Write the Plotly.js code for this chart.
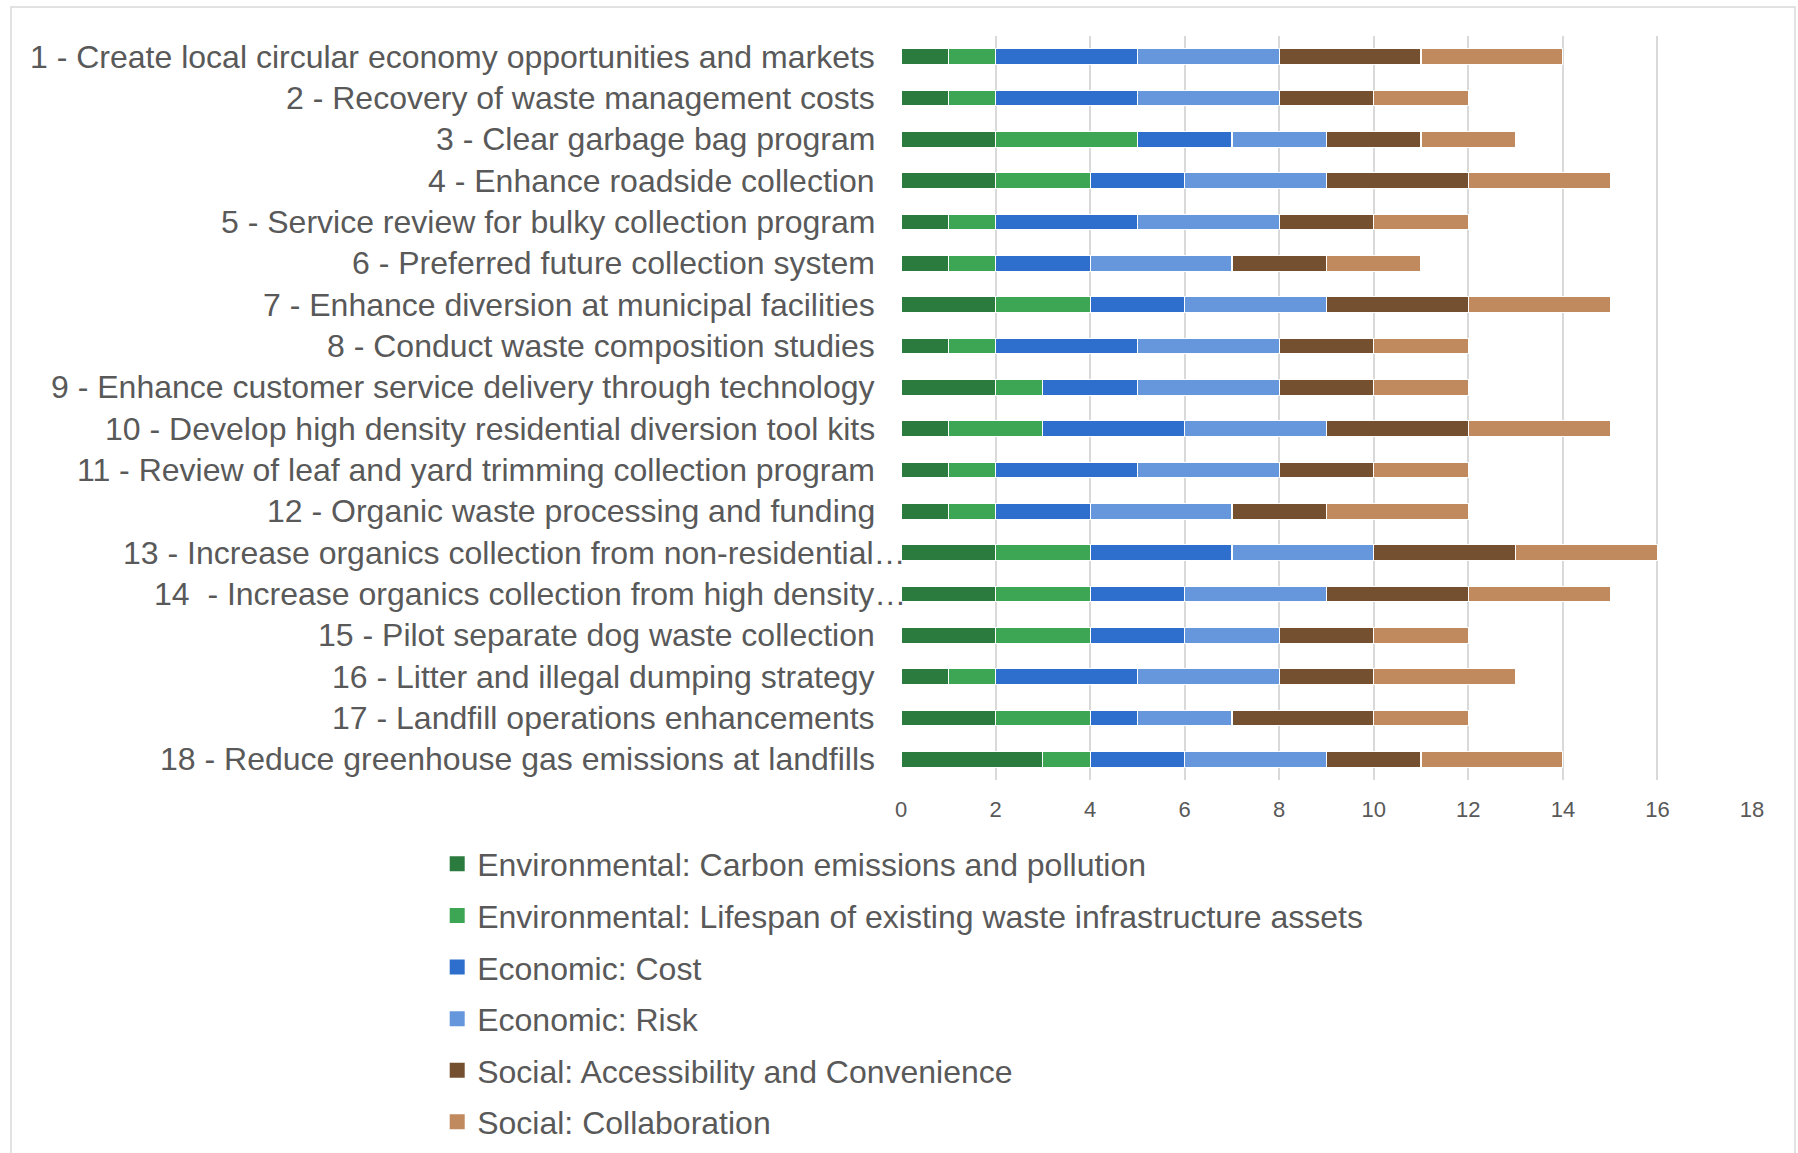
<!DOCTYPE html>
<html>
<head>
<meta charset="utf-8">
<script src="https://cdn.plot.ly/plotly-3.0.1.min.js"></script>
<style>html,body{margin:0;padding:0;background:#fff;}#chart{width:1798px;height:1153px;}</style>
</head>
<body>
<div id="chart"></div>
<script>
const categories = [
  "1 - Create local circular economy opportunities and markets",
  "2 - Recovery of waste management costs",
  "3 - Clear garbage bag program",
  "4 - Enhance roadside collection",
  "5 - Service review for bulky collection program",
  "6 - Preferred future collection system",
  "7 - Enhance diversion at municipal facilities",
  "8 - Conduct waste composition studies",
  "9 - Enhance customer service delivery through technology",
  "10 - Develop high density residential diversion tool kits",
  "11 - Review of leaf and yard trimming collection program",
  "12 - Organic waste processing and funding",
  "13 - Increase organics collection from non-residential\u2026",
  "14 \u00a0- Increase organics collection from high density\u2026",
  "15 - Pilot separate dog waste collection",
  "16 - Litter and illegal dumping strategy",
  "17 - Landfill operations enhancements",
  "18 - Reduce greenhouse gas emissions at landfills"
];
const seriesNames = [
  "Environmental: Carbon emissions and pollution",
  "Environmental: Lifespan of existing waste infrastructure assets",
  "Economic: Cost",
  "Economic: Risk",
  "Social: Accessibility and Convenience",
  "Social: Collaboration"
];
const carbon        = [1,1,2,2,1,1,2,1,2,1,1,1,2,2,2,1,2,3];
const lifespan      = [1,1,3,2,1,1,2,1,1,2,1,1,2,2,2,1,2,1];
const cost          = [3,3,2,2,3,2,2,3,2,3,3,2,3,2,2,3,1,2];
const risk          = [3,3,2,3,3,3,3,3,3,3,3,3,3,3,2,3,2,3];
const accessibility = [3,2,2,3,2,2,3,2,2,3,2,2,3,3,2,2,3,2];
const collaboration = [3,2,2,3,2,2,3,2,2,3,2,3,3,3,2,3,2,3];
const xTickVals = [0,2,4,6,8,10,12,14,16,18];

const seriesValues = [carbon, lifespan, cost, risk, accessibility, collaboration];
const colors = ["#2B7A3E","#3DA655","#2E6FCE","#6697DC","#755030","#C0895E"];

const barTraces = seriesValues.map((vals, i) => ({
  type: "bar",
  orientation: "h",
  name: seriesNames[i],
  y: categories,
  x: vals,
  legendgroup: "g" + i,
  showlegend: false,
  marker: {color: colors[i], line: {color: "#ffffff", width: 1.2}},
  hoverinfo: "x+name"
}));

// legend swatches (square markers, no data points)
const legendTraces = seriesNames.map((name, i) => ({
  type: "scatter",
  mode: "markers",
  name: name,
  x: [null],
  y: [null],
  legendgroup: "g" + i,
  showlegend: true,
  marker: {symbol: "square", size: 15, color: colors[i]},
  hoverinfo: "skip"
}));

// category labels: truncated labels (ending with an ellipsis) run up to the axis, as in the source chart
const labelAnnotations = categories.map(c => ({
  text: c,
  xref: "paper", yref: "y",
  x: c.endsWith("\u2026") ? 0.008 : -0.0285,
  y: c,
  xanchor: "right", yanchor: "middle",
  showarrow: false,
  font: {size: 32, color: "#595959"}
}));

const layout = {
  width: 1798,
  height: 1153,
  paper_bgcolor: "#ffffff",
  plot_bgcolor: "#ffffff",
  barmode: "stack",
  bargap: 0.62,
  font: {family: "Liberation Sans, Arial, sans-serif", color: "#595959"},
  margin: {l: 901, r: 46, t: 36, b: 373, pad: 0, autoexpand: false},
  showlegend: true,
  legend: {
    orientation: "v",
    x: -0.545, xanchor: "left",
    y: -0.076, yanchor: "top",
    font: {size: 32, color: "#595959"},
    tracegroupgap: 7,
    traceorder: "grouped",
    bgcolor: "rgba(0,0,0,0)"
  },
  xaxis: {
    range: [0, 18],
    tickvals: xTickVals,
    ticktext: xTickVals.map(String),
    showgrid: true,
    gridcolor: "#d9d9d9",
    gridwidth: 2,
    zeroline: false,
    showline: false,
    ticks: "",
    tickfont: {size: 22, color: "#595959"},
    ticklabelstandoff: 14,
    automargin: false,
    fixedrange: true
  },
  yaxis: {
    type: "category",
    categoryarray: categories,
    categoryorder: "array",
    autorange: "reversed",
    showgrid: false,
    zeroline: false,
    showline: false,
    ticks: "",
    showticklabels: false,
    automargin: false,
    fixedrange: true
  },
  annotations: labelAnnotations,
  shapes: [{
    type: "rect", xref: "paper", yref: "paper",
    x0: (11 - 901) / 851, x1: (1795 - 901) / 851,
    y0: (780 - 1160) / 744, y1: (780 - 7) / 744,
    line: {color: "#d9d9d9", width: 1.5},
    fillcolor: "rgba(0,0,0,0)",
    layer: "below"
  }]
};

Plotly.newPlot("chart", barTraces.concat(legendTraces), layout, {displayModeBar: false, staticPlot: true});
</script>
</body>
</html>
